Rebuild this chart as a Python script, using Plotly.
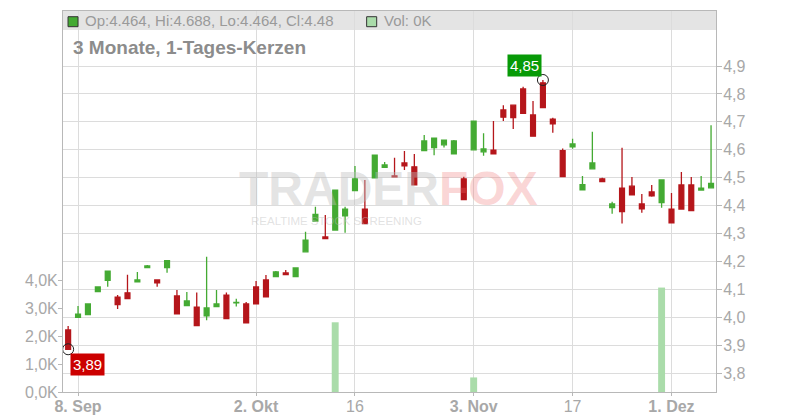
import plotly.graph_objects as go

dates = [
    "2025-09-05",
    "2025-09-08", "2025-09-09", "2025-09-10", "2025-09-11", "2025-09-12",
    "2025-09-15", "2025-09-16", "2025-09-17", "2025-09-18", "2025-09-19",
    "2025-09-22", "2025-09-23", "2025-09-24", "2025-09-25", "2025-09-26",
    "2025-09-29", "2025-09-30", "2025-10-01", "2025-10-02", "2025-10-03",
    "2025-10-06", "2025-10-07", "2025-10-08", "2025-10-09", "2025-10-10",
    "2025-10-13", "2025-10-14", "2025-10-15", "2025-10-16", "2025-10-17",
    "2025-10-20", "2025-10-21", "2025-10-22", "2025-10-23", "2025-10-24",
    "2025-10-27", "2025-10-28", "2025-10-29", "2025-10-30", "2025-10-31",
    "2025-11-03", "2025-11-04", "2025-11-05", "2025-11-06", "2025-11-07",
    "2025-11-10", "2025-11-11", "2025-11-12", "2025-11-13", "2025-11-14",
    "2025-11-17", "2025-11-18", "2025-11-19", "2025-11-20", "2025-11-21",
    "2025-11-24", "2025-11-25", "2025-11-26", "2025-11-27", "2025-11-28",
    "2025-12-01", "2025-12-02", "2025-12-03", "2025-12-04", "2025-12-05",
]

open_ = [
    3.955,
    4.000, 4.010, 4.092, 4.133, 4.073,
    4.088, 4.127, 4.178, 4.134, 4.178,
    4.077, 4.042, 4.037, 4.006, 4.039,
    4.080, 4.052, 4.048, 4.109, 4.134,
    4.146, 4.159, 4.146, 4.235, 4.345,
    4.288, 4.313, 4.364, 4.454, 4.388,
    4.500, 4.537, 4.507, 4.553, 4.539,
    4.597, 4.608, 4.618, 4.586, 4.496,
    4.600, 4.593, 4.599, 4.743, 4.760,
    4.818, 4.725, 4.840, 4.710, 4.597,
    4.611, 4.457, 4.532, 4.496, 4.393,
    4.463, 4.470, 4.406, 4.449, 4.411,
    4.388, 4.474, 4.474, 4.456, 4.464,
]
high = [
    3.969,
    4.041, 4.048, 4.109, 4.166, 4.080,
    4.153, 4.163, 4.188, 4.134, 4.205,
    4.098, 4.091, 4.089, 4.217, 4.098,
    4.089, 4.067, 4.055, 4.130, 4.152,
    4.166, 4.170, 4.177, 4.307, 4.396,
    4.367, 4.456, 4.396, 4.542, 4.492,
    4.581, 4.556, 4.572, 4.596, 4.585,
    4.653, 4.642, 4.635, 4.635, 4.504,
    4.703, 4.659, 4.703, 4.760, 4.760,
    4.826, 4.775, 4.850, 4.715, 4.605,
    4.640, 4.506, 4.665, 4.500, 4.414,
    4.607, 4.503, 4.442, 4.474, 4.492,
    4.445, 4.521, 4.503, 4.506, 4.688,
]
low = [
    3.886,
    4.000, 4.010, 4.092, 4.110, 4.030,
    4.067, 4.127, 4.178, 4.110, 4.160,
    4.013, 4.042, 3.971, 3.990, 4.039,
    3.996, 4.039, 3.981, 4.049, 4.074,
    4.146, 4.153, 4.146, 4.235, 4.345,
    4.282, 4.313, 4.303, 4.454, 4.336,
    4.500, 4.537, 4.503, 4.528, 4.475,
    4.597, 4.581, 4.608, 4.586, 4.422,
    4.600, 4.579, 4.586, 4.703, 4.675,
    4.731, 4.649, 4.751, 4.661, 4.504,
    4.604, 4.457, 4.532, 4.486, 4.371,
    4.336, 4.439, 4.375, 4.432, 4.393,
    4.339, 4.388, 4.382, 4.454, 4.464,
]
close = [
    3.886,
    4.012, 4.048, 4.109, 4.166, 4.046,
    4.067, 4.134, 4.184, 4.124, 4.203,
    4.013, 4.059, 3.971, 4.034, 4.048,
    3.996, 4.054, 3.981, 4.049, 4.074,
    4.163, 4.153, 4.177, 4.277, 4.369,
    4.282, 4.456, 4.388, 4.496, 4.336,
    4.581, 4.546, 4.503, 4.543, 4.475,
    4.632, 4.642, 4.635, 4.632, 4.422,
    4.703, 4.603, 4.586, 4.717, 4.715,
    4.731, 4.649, 4.751, 4.693, 4.504,
    4.621, 4.475, 4.553, 4.486, 4.406,
    4.379, 4.439, 4.389, 4.435, 4.492,
    4.339, 4.388, 4.382, 4.463, 4.480,
]
volume = [
    0,
    0, 0, 0, 0, 0,
    0, 0, 0, 0, 0,
    0, 0, 0, 0, 0,
    0, 0, 0, 0, 0,
    0, 0, 0, 0, 0,
    0, 2490, 0, 0, 0,
    0, 0, 0, 0, 0,
    0, 0, 0, 0, 0,
    520, 0, 0, 0, 0,
    0, 0, 0, 0, 0,
    0, 0, 0, 0, 0,
    0, 0, 0, 0, 3730,
    0, 0, 0, 0, 0,
]

x_tick_dates = ["2025-09-08", "2025-10-02", "2025-10-16", "2025-11-03", "2025-11-17", "2025-12-01"]
x_tick_labels = ["<b>8. Sep</b>", "<b>2. Okt</b>", "16", "<b>3. Nov</b>", "17", "<b>1. Dez</b>"]
price_ticks = [3.8, 3.9, 4.0, 4.1, 4.2, 4.3, 4.4, 4.5, 4.6, 4.7, 4.8, 4.9]
vol_ticks = [0, 1000, 2000, 3000, 4000]
vol_tick_labels = ["0,0K", "1,0K", "2,0K", "3,0K", "4,0K"]

header_text = "Op:4.464, Hi:4.688, Lo:4.464, Cl:4.48"
vol_text = "Vol: 0K"
title_text = "3 Monate, 1-Tages-Kerzen"

GREEN = "#44aa33"
RED = "#b5161b"
VOLCOL = "#aadcaa"
GRID = "#dcdcdc"
AXIS = "#b8b8b8"
FONT = "Liberation Sans, Arial, sans-serif"
TICKFONT = dict(family=FONT, size=16, color="#a8a8a8")

fig = go.Figure()

fig.add_trace(go.Bar(
    x=dates, y=volume, yaxis="y2", marker=dict(color=VOLCOL, line=dict(width=0)),
    width=0.7, hoverinfo="skip", showlegend=False,
))

fig.add_trace(go.Candlestick(
    x=dates, open=open_, high=high, low=low, close=close,
    increasing=dict(line=dict(color=GREEN, width=1.3), fillcolor=GREEN),
    decreasing=dict(line=dict(color=RED, width=1.3), fillcolor=RED),
    whiskerwidth=0, showlegend=False, hoverinfo="skip",
))

i_hi = max(range(len(high)), key=lambda i: high[i])
i_lo = min(range(len(low)), key=lambda i: low[i])
fig.add_trace(go.Scatter(
    x=[dates[i_hi], dates[i_lo]], y=[high[i_hi], low[i_lo]], mode="markers",
    marker=dict(symbol="circle-open", size=11, color="#222222", line=dict(width=1)),
    showlegend=False, hoverinfo="skip",
))

def fmt(v):
    return f"{v:.2f}".replace(".", ",")

annotations = [
    dict(x=dates[i_hi], y=high[i_hi], xref="x", yref="y", text=fmt(high[i_hi]),
         showarrow=False, xanchor="right", yanchor="bottom", xshift=-1, yshift=3,
         bgcolor="#079a07", font=dict(family=FONT, size=15, color="white"), borderpad=2),
    dict(x=dates[i_lo], y=low[i_lo], xref="x", yref="y", text=fmt(low[i_lo]),
         showarrow=False, xanchor="left", yanchor="top", xshift=2, yshift=-4,
         bgcolor="#cc0000", font=dict(family=FONT, size=15, color="white"), borderpad=2),
    dict(x=0.0306, y=0.9738, xref="paper", yref="paper", text=header_text, showarrow=False,
         xanchor="left", yanchor="middle", font=dict(family=FONT, size=15, color="#9a9a9a")),
    dict(x=0.4885, y=0.9738, xref="paper", yref="paper", text=vol_text, showarrow=False,
         xanchor="left", yanchor="middle", font=dict(family=FONT, size=15, color="#9a9a9a")),
    dict(x=0.0125, y=0.905, xref="paper", yref="paper", text="<b>" + title_text + "</b>",
         showarrow=False, xanchor="left", yanchor="middle",
         font=dict(family=FONT, size=19, color="#8c8c8c")),
    dict(x=0.499, y=0.535, xref="paper", yref="paper",
         text="<b><span style='color:rgba(190,190,190,0.42)'>TRADER</span>"
              "<span style='color:rgba(240,110,110,0.28)'>FOX</span></b>",
         showarrow=False, xanchor="center", yanchor="middle",
         font=dict(family=FONT, size=48)),
    dict(x=0.419, y=0.448, xref="paper", yref="paper", text="REALTIME STOCK SCREENING",
         showarrow=False, xanchor="center", yanchor="middle",
         font=dict(family=FONT, size=11.5, color="rgba(190,190,190,0.45)")),
]

shapes = [
    dict(type="rect", xref="paper", yref="paper", x0=0, x1=1, y0=0.9502, y1=1,
         fillcolor="#e4e4e4", line=dict(width=0), layer="below"),
    dict(type="rect", xref="paper", yref="paper", x0=0.0077, x1=0.0230, y0=0.9588, y1=0.9850,
         fillcolor=GREEN, line=dict(width=1, color="#333333")),
    dict(type="rect", xref="paper", yref="paper", x0=0.4650, x1=0.4804, y0=0.9588, y1=0.9850,
         fillcolor=VOLCOL, line=dict(width=1, color="#333333")),
]

# The page adds an 8px body margin; size the figure so the plot area lands
# at x 63..716, y 11..392 of the 800x420 window.
fig.update_layout(
    width=792, height=412,
    margin=dict(l=55, r=84, t=3, b=28, pad=0, autoexpand=False),
    paper_bgcolor="white", plot_bgcolor="rgba(0,0,0,0)",
    separators=",.",
    showlegend=False,
    font=dict(family=FONT),
    xaxis=dict(
        type="category", categoryorder="array", categoryarray=dates,
        range=[-0.52, len(dates) - 0.5], automargin=False,
        tickvals=x_tick_dates, ticktext=x_tick_labels,
        showgrid=True, gridcolor=GRID, gridwidth=1,
        showline=True, linecolor=AXIS, linewidth=1, mirror=True,
        ticks="outside", ticklen=3, tickcolor=AXIS, ticklabelstandoff=-3,
        tickfont=TICKFONT, rangeslider=dict(visible=False), fixedrange=True,
    ),
    yaxis=dict(
        side="right", range=[3.733, 5.097], tickvals=price_ticks, tickformat=".1f",
        automargin=False,
        showgrid=True, gridcolor=GRID, gridwidth=1, zeroline=False,
        showline=True, linecolor=AXIS, linewidth=1, ticklabelstandoff=-2,
        ticks="outside", ticklen=5, tickcolor=AXIS, tickfont=TICKFONT,
    ),
    yaxis2=dict(
        overlaying="y", side="left", range=[0, 13607], automargin=False,
        tickvals=vol_ticks, ticktext=vol_tick_labels,
        showgrid=False, zeroline=False, ticklabelstandoff=-3,
        showline=True, linecolor=AXIS, linewidth=1,
        ticks="outside", ticklen=4, tickcolor=AXIS, tickfont=TICKFONT,
    ),
    annotations=annotations,
    shapes=shapes,
)

fig.write_html("out.html")
